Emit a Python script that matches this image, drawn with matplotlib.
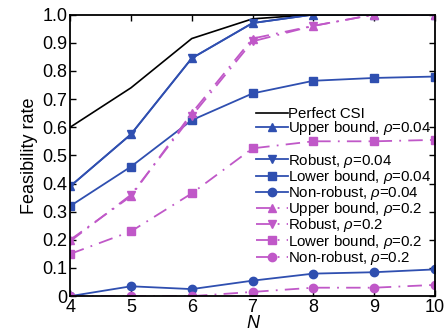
import matplotlib.pyplot as plt
from matplotlib.lines import Line2D

plt.rcParams['font.family'] = ['Liberation Sans', 'DejaVu Sans']
plt.rcParams['mathtext.fontset'] = 'custom'
plt.rcParams['mathtext.it'] = 'Liberation Sans:italic'

N = [4, 5, 6, 7, 8, 9, 10]
perfect = [0.60, 0.74, 0.915, 0.985, 1.0, 1.0, 1.0]
upper_004 = [0.39, 0.575, 0.845, 0.97, 1.0, 1.0, 1.0]
robust_004 = [0.39, 0.575, 0.845, 0.97, 1.0, 1.0, 1.0]
lower_004 = [0.32, 0.46, 0.625, 0.72, 0.765, 0.775, 0.78]
nonrob_004 = [0.0, 0.035, 0.025, 0.055, 0.08, 0.085, 0.095]
upper_02 = [0.20, 0.355, 0.65, 0.915, 0.96, 1.0, 1.0]
robust_02 = [0.195, 0.36, 0.64, 0.905, 0.96, 1.0, 1.0]
lower_02 = [0.15, 0.23, 0.365, 0.525, 0.55, 0.55, 0.555]
nonrob_02 = [0.0, 0.0, 0.0, 0.015, 0.03, 0.03, 0.04]

blue = '#2f4fb0'
mag = '#c058c8'

fig = plt.figure(figsize=(4.47, 3.32), dpi=100)
ax = fig.add_axes([0.157, 0.108, 0.816, 0.848])

ms = 6
dd = (0, (8, 4, 1, 4))
ax.plot(N, perfect, color='black', lw=1.2, label='Perfect CSI')
ax.plot(N, upper_004, color=blue, lw=1.3, marker='^', ms=ms, label=r'Upper bound, $\rho$=0.04')
ax.plot(N, robust_004, color=blue, lw=1.3, marker='v', ms=ms, label=r'Robust, $\rho$=0.04')
ax.plot(N, lower_004, color=blue, lw=1.3, marker='s', ms=ms - 0.5, label=r'Lower bound, $\rho$=0.04')
ax.plot(N, nonrob_004, color=blue, lw=1.3, marker='o', ms=ms, label=r'Non-robust, $\rho$=0.04')
ax.plot(N, upper_02, color=mag, lw=1.3, ls=dd, marker='^', ms=ms, label=r'Upper bound, $\rho$=0.2')
ax.plot(N, robust_02, color=mag, lw=1.3, ls=dd, marker='v', ms=ms, label=r'Robust, $\rho$=0.2')
ax.plot(N, lower_02, color=mag, lw=1.3, ls=dd, marker='s', ms=ms - 0.5, label=r'Lower bound, $\rho$=0.2')
ax.plot(N, nonrob_02, color=mag, lw=1.3, ls=dd, marker='o', ms=ms, label=r'Non-robust, $\rho$=0.2')

ax.set_xlim(4, 10)
ax.set_ylim(0, 1.0)
ax.set_xticks(N)
yt = [0, 0.1, 0.2, 0.3, 0.4, 0.5, 0.6, 0.7, 0.8, 0.9, 1.0]
ax.set_yticks(yt)
ax.set_yticklabels(['0'] + ['%.1f' % v for v in yt[1:]])
ax.tick_params(direction='in', top=True, right=True, labelsize=13, length=4, width=1, pad=2)
for s in ax.spines.values():
    s.set_linewidth(1.3)
ax.set_xlabel('N', style='italic', fontsize=13, labelpad=-1)
ax.set_ylabel('Feasibility rate', fontsize=13, labelpad=3)

# blank row between the two rho=0.04 bound entries, same height as the others
h, l = ax.get_legend_handles_labels()
blank = Line2D([], [], color='none')
h = h[:2] + [blank] + h[2:]
l = l[:2] + [r'Robust, $\rho$=0.04'] + l[2:]
leg = ax.legend(h, l, loc='upper left', bbox_to_anchor=(0.51, 0.672), frameon=False,
                fontsize=10.8, handlelength=2.1, handletextpad=0.0, labelspacing=-0.12,
                borderpad=0, borderaxespad=0)
leg.get_texts()[2].set_alpha(0)

fig.savefig('out.png', dpi=100)
